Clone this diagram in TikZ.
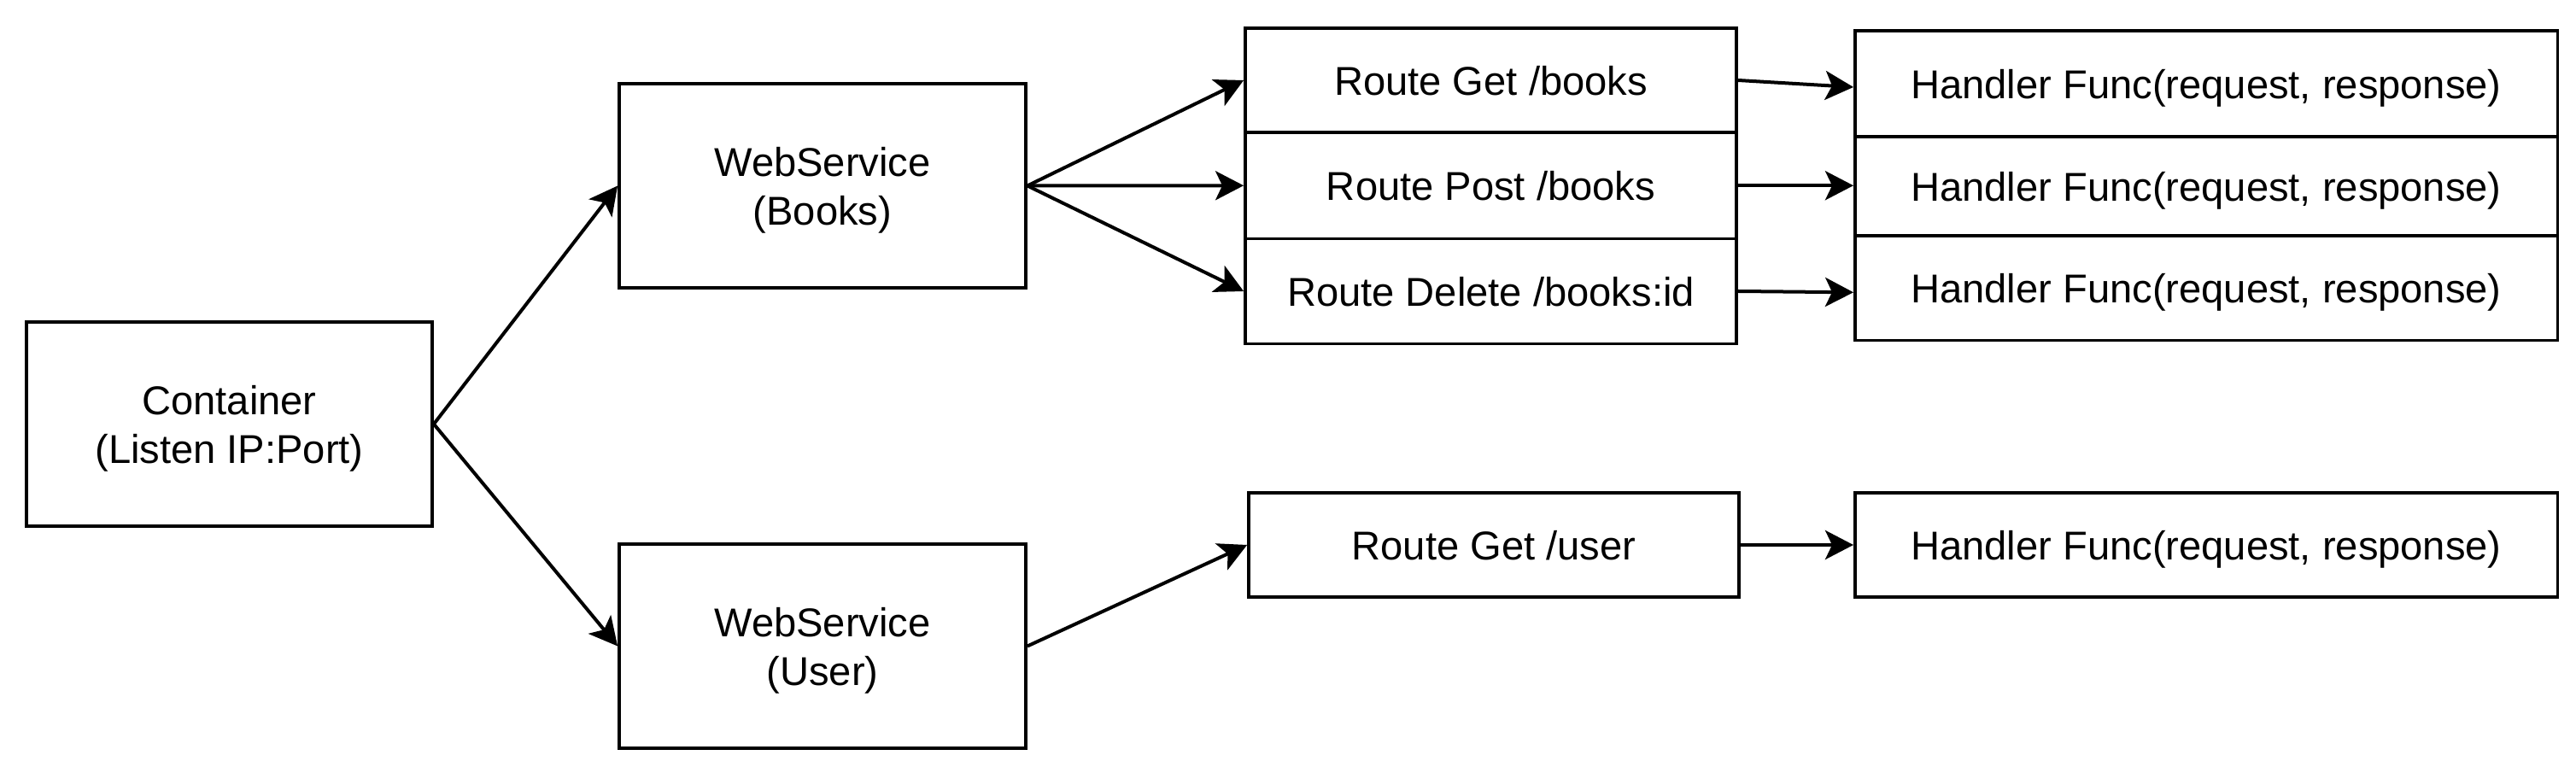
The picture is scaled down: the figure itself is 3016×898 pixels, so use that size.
\documentclass[tikz,border=0pt]{standalone}
\usepackage{fontspec}
\setmainfont{Liberation Sans}
\usetikzlibrary{arrows.meta}
\begin{document}
\begin{tikzpicture}[x=0.01cm,y=-0.01cm,
  box/.style={draw=black, line width=0.035cm, rectangle, inner sep=0pt, align=center,
    text depth=0pt, font=\fontsize{13.4}{16.2}\selectfont},
  conn/.style={line width=0.04cm, -{Stealth[length=0.33cm,width=0.34cm,inset=0.08cm]}}]
\useasboundingbox (0,0) rectangle (3016,898);
\node[box, minimum width=4.75cm, minimum height=2.39cm] (cont) at (268.5,496.5) {Container\\(Listen IP:Port)};
\node[box, minimum width=4.76cm, minimum height=2.39cm] (wsb) at (963,217.5) {WebService\\(Books)};
\node[box, minimum width=4.76cm, minimum height=2.39cm] (wsu) at (963,756.5) {WebService\\(User)};
\node[box, minimum width=5.75cm, minimum height=1.22cm] (r1) at (1745.5,94) {Route Get /books};
\node[box, minimum width=5.75cm, minimum height=1.245cm] (r2) at (1745.5,217.25) {Route Post /books};
\node[box, minimum width=5.75cm, minimum height=1.23cm] (r3) at (1745.5,341) {Route Delete /books:id};
\node[box, minimum width=8.22cm, minimum height=1.24cm] (h1) at (2583,98) {Handler Func(request, response)};
\node[box, minimum width=8.22cm, minimum height=1.16cm] (h2) at (2583,218) {Handler Func(request, response)};
\node[box, minimum width=8.22cm, minimum height=1.226cm] (h3) at (2583,337.3) {Handler Func(request, response)};
\node[box, minimum width=5.74cm, minimum height=1.22cm] (ru) at (1749,638) {Route Get /user};
\node[box, minimum width=8.22cm, minimum height=1.22cm] (hu) at (2583,638) {Handler Func(request, response)};
\draw[conn] (cont.east) -- (wsb.west);
\draw[conn] (cont.east) -- (wsu.west);
\draw[conn] (wsb.east) -- (r1.west);
\draw[conn] (wsb.east) -- (r2.west);
\draw[conn] (wsb.east) -- (r3.west);
\draw[conn] (r1.east) -- ([yshift=-0.04cm]h1.west);
\draw[conn] (r2.east) -- (r2.east -| h2.west);
\draw[conn] (r3.east) -- ([yshift=-0.05cm]h3.west);
\draw[conn] (wsu.east) -- (ru.west);
\draw[conn] (ru.east) -- (hu.west);
\end{tikzpicture}
\end{document}
